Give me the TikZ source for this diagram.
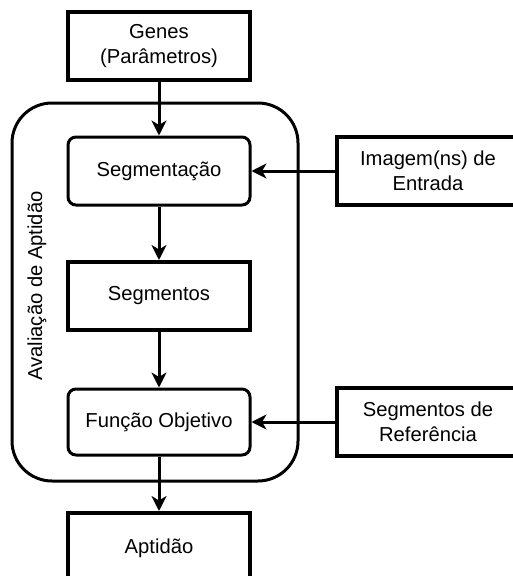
\documentclass[tikz,border=0pt]{standalone}
\usepackage{fontspec}
\setsansfont{Liberation Sans}
\usetikzlibrary{arrows.meta}

\begin{document}
\begin{tikzpicture}[
        x=1pt, y=-1pt,
        box/.style={draw, rectangle, minimum width=182pt, minimum height=68pt, inner sep=0pt, align=center, font=\fontsize{20.2}{25}\selectfont\sffamily},
        data/.style={box, line width=4pt},% plain data block
        stage/.style={box, rounded corners=8pt, line width=3pt},% processing stage
        flow/.style={-{Stealth[length=15pt,width=15pt,inset=4.5pt]}, line width=3pt},% connector
    ]
        \useasboundingbox (0,0) rectangle (513,576);

        \node [draw, line width=3pt, rounded corners=40pt, minimum width=286pt, minimum height=378pt] (fitness) at (155,292) {};
        \node [rotate=90, font=\fontsize{20.2}{25}\selectfont\sffamily] (fitnessLabel) at (37,286) {Avaliação de Aptidão};

        \node [data] (genes) at (159,46) {Genes\\(Parâmetros)};
        \node [stage] (segmentation) at (159,171) {Segmentação};
        \node [data] (segments) at (159,296) {Segmentos};
        \node [stage, minimum height=66pt] (objective) at (159,422) {Função Objetivo};
        \node [data, minimum height=70pt] (aptitude) at (159,548) {Aptidão};

        \node [data, minimum height=68pt] (inputImages) at (428,171) {Imagem(ns) de\\Entrada};
        \node [data, minimum height=68pt] (refSegments) at (428,422) {Segmentos de\\Referência};

        \draw [flow] (genes) -- (segmentation);
        \draw [flow] (segmentation) -- (segments);
        \draw [flow] (segments) -- (objective);
        \draw [flow] (objective) -- (aptitude);
        \draw [flow] (inputImages) -- (segmentation);
        \draw [flow] (refSegments) -- (objective);

    \end{tikzpicture}
\end{document}
